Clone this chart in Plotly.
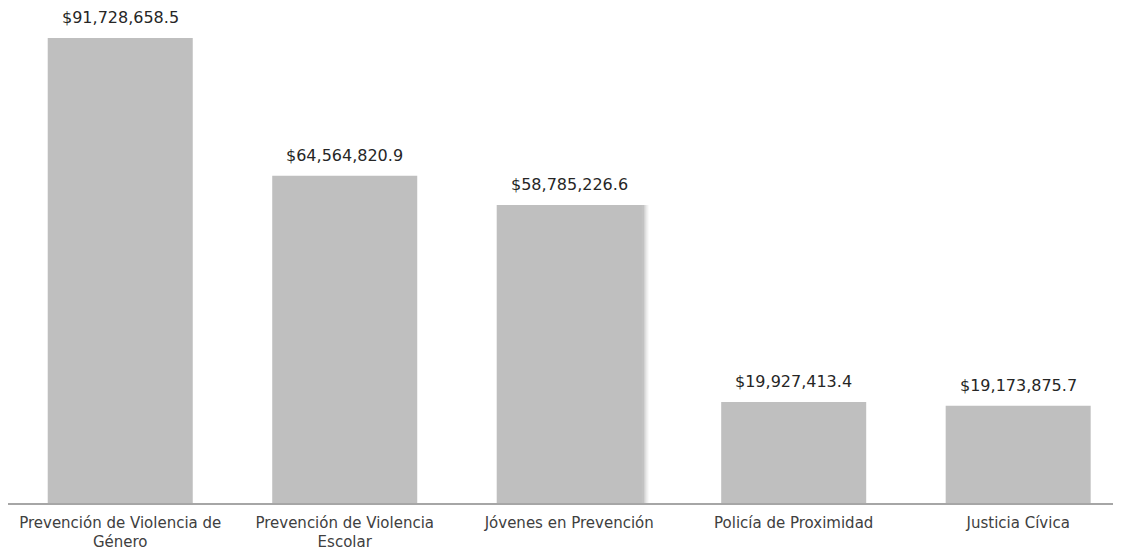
import plotly.graph_objects as go

categories = ["Prevención de Violencia de Género", "Prevención de Violencia Escolar",
              "Jóvenes en Prevención", "Policía de Proximidad", "Justicia Cívica"]
tick_labels = ["Prevención de Violencia de<br>Género", "Prevención de Violencia<br>Escolar",
               "Jóvenes en Prevención", "Policía de Proximidad", "Justicia Cívica"]
values = [91728658.5, 64564820.9, 58785226.6, 19927413.4, 19173875.7]
value_labels = ["$91,728,658.5", "$64,564,820.9", "$58,785,226.6", "$19,927,413.4", "$19,173,875.7"]
shadow_index = 2

BAR_W = 0.646
FONT = "DejaVu Sans"

fig = go.Figure()
# soft shadow behind the third bar
for i, a in enumerate([0.05, 0.08, 0.12]):
    fig.add_trace(go.Bar(
        x=[shadow_index], y=[values[shadow_index]],
        width=[BAR_W], offset=[-BAR_W / 2 + 0.012 + 0.009 * (2 - i)],
        marker=dict(color=f"rgba(0,0,0,{a})", line=dict(width=0)),
        hoverinfo="skip", showlegend=False,
    ))
fig.add_trace(go.Bar(
    x=list(range(len(categories))), y=values,
    width=BAR_W,
    marker=dict(color="#bfbfbf", line=dict(width=0)),
    hovertext=categories, showlegend=False,
))
for i, (v, lab) in enumerate(zip(values, value_labels)):
    fig.add_annotation(
        x=i, y=v, text=lab, showarrow=False, yanchor="bottom", yshift=9,
        font=dict(family=FONT, size=16, color="#262626"),
    )
fig.update_layout(
    width=1113, height=546,
    margin=dict(l=0, r=0, t=2, b=51, autoexpand=False),
    paper_bgcolor="white", plot_bgcolor="white",
    barmode="overlay",
    xaxis=dict(
        range=[-0.5, 4.458], tickmode="array",
        tickvals=list(range(len(categories))), ticktext=tick_labels,
        showline=True, linecolor="#a6a6a6", linewidth=1.5,
        showgrid=False, zeroline=False, ticks="", automargin=False,
        ticklabelstandoff=5,
        tickfont=dict(family=FONT, size=15, color="#404040"),
    ),
    yaxis=dict(range=[0, 97.26e6], visible=False, showgrid=False, zeroline=False,
               automargin=False),
)
fig.write_html("out.html")
